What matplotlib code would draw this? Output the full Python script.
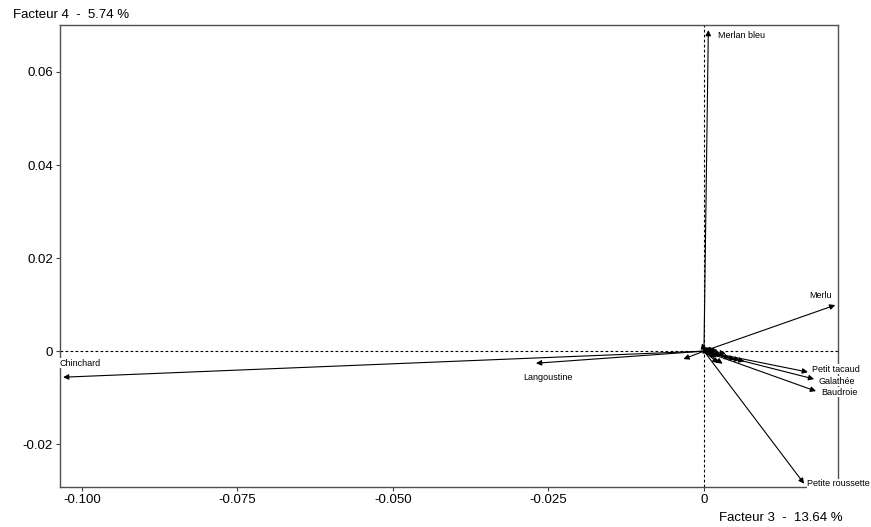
import matplotlib.pyplot as plt

plt.rcParams['font.family'] = ['Liberation Sans', 'DejaVu Sans']

# --- data: arrow tips (Facteur 3, Facteur 4) ---
species = ['Merlan bleu', 'Merlu', 'Petit tacaud', 'Galathée', 'Baudroie',
           'Petite roussette', 'Chinchard', 'Langoustine']
f3 = [0.0007, 0.0211, 0.0167, 0.0177, 0.0180, 0.0161, -0.1030, -0.0270]
f4 = [0.0690, 0.0099, -0.0045, -0.0060, -0.0086, -0.0285, -0.0056, -0.0026]

# unlabelled short arrows near the origin
small_f3 = [-0.0033, -0.0003, 0.0012, 0.0018, 0.0022, 0.0015, 0.0028, 0.0023,
            0.0030, 0.0042, 0.0050, 0.0058, 0.0065, 0.0008, 0.0020, 0.0035]
small_f4 = [-0.0017, 0.0017, 0.0008, 0.0005, 0.0002, -0.0006, -0.0010, -0.0026,
            -0.0027, -0.0015, -0.0018, -0.0020, -0.0022, -0.0004, -0.0012, -0.0005]

xticks = [-0.100, -0.075, -0.050, -0.025, 0]
xticklabels = ['-0.100', '-0.075', '-0.050', '-0.025', '0']
yticks = [-0.02, 0, 0.02, 0.04, 0.06]
yticklabels = ['-0.02', '0', '0.02', '0.04', '0.06']

# label placement (pixel offsets from arrow tip, alignment)
label_pos = {
    'Merlan bleu': (10, -5, 'left'),
    'Merlu': (-26, 10, 'left'),
    'Petit tacaud': (4, 3, 'left'),
    'Galathée': (4, -2, 'left'),
    'Baudroie': (5, -1, 'left'),
    'Petite roussette': (3, 0, 'left'),
    'Chinchard': (-4, 14, 'left'),
    'Langoustine': (12, -14, 'center'),
}

fig = plt.figure(figsize=(8.71, 5.27), dpi=100)
W, H = 871, 527
ax = fig.add_axes([60 / W, (H - 487) / H, 778 / W, 462 / H])

ax.set_xlim(-0.1035, 0.02154)
ax.set_ylim(-0.0292, 0.0701)

ax.axhline(0, color='black', lw=0.8, ls=(0, (2.5, 2)), zorder=1)
ax.axvline(0, color='black', lw=0.8, ls=(0, (2.5, 2)), zorder=1)

arrow_kw = dict(arrowstyle='-|>', color='black', lw=0.8, mutation_scale=8,
                shrinkA=0, shrinkB=0)

for x, y in zip(small_f3, small_f4):
    ax.annotate('', xy=(x, y), xytext=(0, 0), arrowprops=arrow_kw, zorder=3)

for name, x, y in zip(species, f3, f4):
    ax.annotate('', xy=(x, y), xytext=(0, 0), arrowprops=arrow_kw, zorder=3)
    dx, dy, ha = label_pos[name]
    ax.annotate(name, xy=(x, y), xytext=(dx, dy), textcoords='offset pixels',
                ha=ha, va='center', fontsize=6.5, zorder=5, annotation_clip=False,
                bbox=dict(facecolor='white', edgecolor='none', pad=0.2))

ax.set_xticks(xticks)
ax.set_xticklabels(xticklabels)
ax.set_yticks(yticks)
ax.set_yticklabels(yticklabels)
ax.tick_params(direction='out', length=3, width=0.8, color='#404040',
               labelsize=9.5, pad=2)
for s in ax.spines.values():
    s.set_color('#505050')
    s.set_linewidth(1.0)

fig.text(13 / W, 1 - 15 / H, 'Facteur 4  -  5.74 %', fontsize=9.5,
         ha='left', va='center')
fig.text(843 / W, 1 - 518 / H, 'Facteur 3  -  13.64 %', fontsize=9.5,
         ha='right', va='center')

fig.savefig('out.png', dpi=100)
